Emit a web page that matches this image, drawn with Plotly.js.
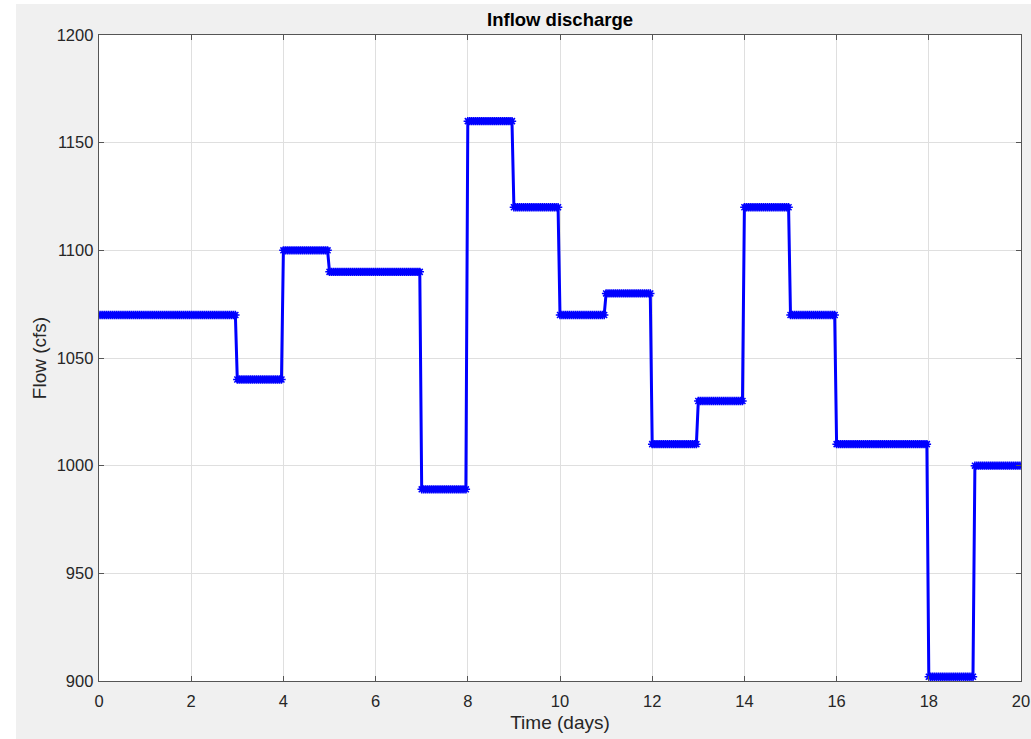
<!DOCTYPE html>
<html>
<head>
<meta charset="utf-8">
<script src="https://cdn.plot.ly/plotly-3.0.1.min.js"></script>
<style>html,body{margin:0;padding:0;background:#fff;}#chart{width:1031px;height:739px;}</style>
</head>
<body>
<div id="chart"></div>
<script>
// Daily inflow values (cfs), one per day from day 0 to day 19
const dayStart = [0,1,2,3,4,5,6,7,8,9,10,11,12,13,14,15,16,17,18,19];
const dailyFlow = [1070,1070,1070,1040,1100,1090,1090,989,1160,1120,1070,1080,1010,1030,1120,1070,1010,1010,902,1000];
const samplesPerDay = 24; // hourly samples, held constant over each day
const xTicks = [0,2,4,6,8,10,12,14,16,18,20];
const yTicks = [900,950,1000,1050,1100,1150,1200];

// hold each day's value across its hourly samples
const t = [], q = [];
for (let d = 0; d < dayStart.length; d++) {
  for (let h = 0; h < samplesPerDay; h++) {
    t.push(dayStart[d] + h / samplesPerDay);
    q.push(dailyFlow[d]);
  }
}
t.push(dayStart[dayStart.length - 1] + 1);
q.push(dailyFlow[dailyFlow.length - 1]);

const axisColor = '#262626';
const lineColor = '#555555';
const fontFam = 'Liberation Sans, Arial, Helvetica, sans-serif';
const trace = {
  x: t, y: q, type: 'scatter', mode: 'lines+markers',
  line: {color: '#0000ff', width: 3},
  marker: {symbol: 'asterisk-open', size: 7, color: '#0000ff', line: {color: '#0000ff', width: 1.5}},
  hoverinfo: 'skip'
};

const layout = {
  width: 1031, height: 739,
  margin: {l: 99, r: 10, t: 35, b: 58},
  paper_bgcolor: '#f0f0f0',
  plot_bgcolor: '#ffffff',
  showlegend: false,
  font: {family: fontFam, color: axisColor, size: 16.5},
  title: {text: '<b>Inflow discharge</b>', x: 0.5432, xanchor: 'center', y: 0.9736, yanchor: 'middle',
          font: {size: 18.5, color: '#000000', family: fontFam}},
  xaxis: {
    range: [0, 20], tickvals: xTicks, ticktext: xTicks.map(String),
    showgrid: true, gridcolor: '#dfdfdf', gridwidth: 1, zeroline: false,
    showline: true, linecolor: lineColor, linewidth: 1.3, mirror: 'ticks',
    ticks: 'inside', ticklen: 5, tickcolor: lineColor, tickfont: {size: 16.5, color: axisColor},
    ticklabelstandoff: 5,
    title: {text: 'Time (days)', font: {size: 19, color: axisColor}, standoff: 6}
  },
  yaxis: {
    range: [900, 1200], tickvals: yTicks, ticktext: yTicks.map(String),
    showgrid: true, gridcolor: '#dfdfdf', gridwidth: 1, zeroline: false,
    showline: true, linecolor: lineColor, linewidth: 1.3, mirror: 'ticks',
    ticks: 'inside', ticklen: 5, tickcolor: lineColor, tickfont: {size: 16.5, color: axisColor},
    ticklabelstandoff: 1,
    title: {text: 'Flow (cfs)', font: {size: 19, color: axisColor}, standoff: 5}
  },
  shapes: [
    {type: 'rect', xref: 'paper', yref: 'paper', x0: -0.2, x1: -0.0900, y0: -0.2, y1: 1.2,
     fillcolor: '#ffffff', line: {width: 0}, layer: 'below'},
    {type: 'rect', xref: 'paper', yref: 'paper', x0: -0.2, x1: 1.2, y0: 1.0480, y1: 1.2,
     fillcolor: '#ffffff', line: {width: 0}, layer: 'below'}
  ]
};

Plotly.newPlot('chart', [trace], layout, {displayModeBar: false, staticPlot: true});
</script>
</body>
</html>
